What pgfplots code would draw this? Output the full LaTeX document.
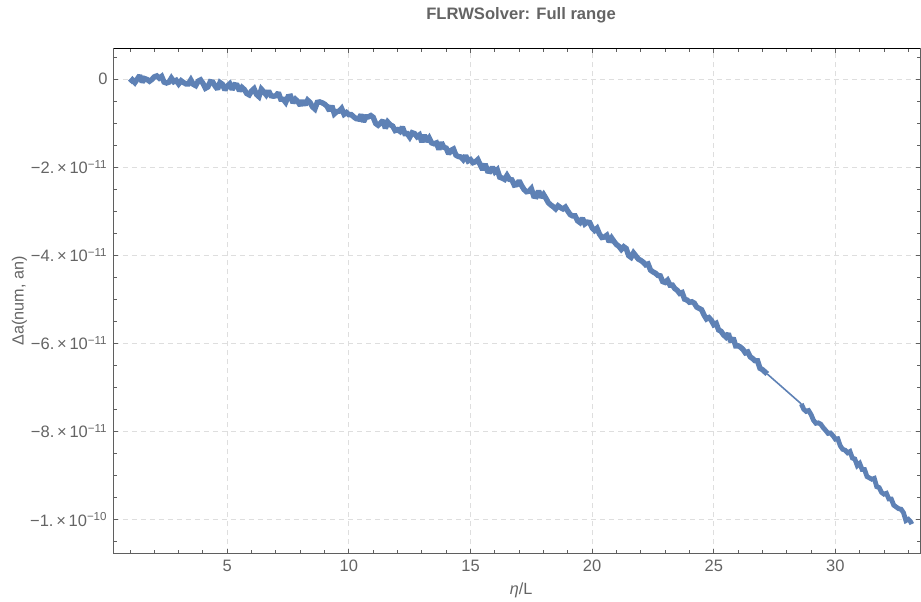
\documentclass[border=0pt]{standalone}
\usepackage{pgfplots}
\pgfplotsset{compat=1.18}
\usepackage{fontspec}
\setmainfont{Liberation Sans}
\definecolor{mblue}{RGB}{94,129,181}
\definecolor{lblgray}{RGB}{100,100,100}
\definecolor{framegray}{RGB}{95,95,95}
\definecolor{gridgray}{RGB}{222,222,222}
\newcommand{\sci}[2]{−#1.\,×\,10\textsuperscript{−#2}}
\begin{document}
\begin{tikzpicture}
\useasboundingbox (-57pt,-24pt) rectangle (403.5pt,276.5pt);
\begin{axis}[
  at={(0pt,0pt)}, anchor=south west,
  scale only axis, width=403pt, height=252pt,
  xmin=0.341, xmax=33.48, ymin=-10.766, ymax=0.682,
  xtick={5,10,15,20,25,30},
  minor xtick={1,2,...,33},
  ytick={-10,-8,-6,-4,-2,0},
  yticklabels={\sci{1}{10},\sci{8}{11},\sci{6}{11},\sci{4}{11},\sci{2}{11},0},
  minor ytick={-10.5,-10,...,0.5},
  major tick length=2pt, minor tick length=1.3pt,
  tick style={framegray, line width=0.5pt},
  axis line style={framegray, line width=0.5pt},
  grid=major,
  major grid style={gridgray, dash pattern=on 2.5pt off 2pt, line width=0.5pt},
  /pgf/number format/assume math mode=true,
  tick label style={font=\fontsize{8.25}{9.9}\selectfont, text=lblgray, inner sep=0pt},
  xticklabel style={yshift=-3.5pt},
  yticklabel style={xshift=-3pt},
  title={FLRWSolver: Full range},
  title style={at={(axis description cs:0.505,1.0427)}, anchor=center, font=\bfseries\fontsize{8.3}{10}\selectfont, text=lblgray},
  xlabel={{\itshape η}/L},
  xlabel style={at={(axis description cs:0.505,-0.0734)}, anchor=center, font=\fontsize{8.1}{10}\selectfont, text=lblgray},
  ylabel={Δa(num, an)},
  ylabel style={at={(axis description cs:-0.1172,0.5)}, anchor=center, font=\fontsize{8.1}{10}\selectfont, text=lblgray},
]
\addplot[mblue, line width=2.7pt, line join=miter, miter limit=2] coordinates {
(1.0,-0.08)(1.1,-0.02)(1.2,-0.08)(1.3,0.00)(1.4,0.08)(1.5,-0.07)(1.6,0.01)(1.7,-0.01)(1.8,-0.05)(1.9,-0.01)
(2.0,0.05)(2.1,0.07)(2.2,0.02)(2.3,0.06)(2.4,-0.07)(2.5,-0.09)(2.6,-0.07)(2.7,0.02)(2.8,-0.06)(2.9,-0.03)
(3.0,-0.11)(3.1,-0.04)(3.2,-0.08)(3.3,-0.11)(3.4,-0.11)(3.5,-0.02)(3.6,-0.12)(3.7,-0.15)(3.8,-0.05)(3.9,-0.02)
(4.0,-0.10)(4.1,-0.21)(4.2,-0.18)(4.3,-0.06)(4.4,-0.07)(4.5,-0.16)(4.6,-0.23)(4.7,-0.08)(4.8,-0.12)(4.9,-0.25)
(5.0,-0.16)(5.1,-0.11)(5.2,-0.24)(5.3,-0.13)(5.4,-0.14)(5.5,-0.27)(5.6,-0.19)(5.7,-0.24)(5.8,-0.33)(5.9,-0.36)
(6.0,-0.27)(6.1,-0.22)(6.2,-0.35)(6.3,-0.40)(6.4,-0.23)(6.5,-0.29)(6.6,-0.36)(6.7,-0.27)(6.8,-0.38)(6.9,-0.39)
(7.0,-0.38)(7.1,-0.31)(7.2,-0.46)(7.3,-0.46)(7.4,-0.53)(7.5,-0.40)(7.6,-0.39)(7.7,-0.54)(7.8,-0.46)(7.9,-0.51)
(8.0,-0.60)(8.1,-0.49)(8.2,-0.59)(8.3,-0.48)(8.4,-0.53)(8.5,-0.63)(8.6,-0.68)(8.7,-0.53)(8.8,-0.52)(8.9,-0.54)
(9.0,-0.57)(9.1,-0.62)(9.2,-0.72)(9.3,-0.61)(9.4,-0.79)(9.5,-0.74)(9.6,-0.73)(9.7,-0.67)(9.8,-0.80)(9.9,-0.76)
(10.0,-0.81)(10.1,-0.81)(10.2,-0.86)(10.3,-0.90)(10.4,-0.91)(10.5,-0.81)(10.6,-0.97)(10.7,-0.86)(10.8,-0.86)(10.9,-0.83)
(11.0,-0.87)(11.1,-1.01)(11.2,-1.05)(11.3,-1.00)(11.4,-0.94)(11.5,-1.12)(11.6,-0.98)(11.7,-1.04)(11.8,-1.07)(11.9,-1.17)
(12.0,-1.15)(12.1,-1.19)(12.2,-1.09)(12.3,-1.24)(12.4,-1.24)(12.5,-1.32)(12.6,-1.22)(12.7,-1.24)(12.8,-1.31)(12.9,-1.27)
(13.0,-1.43)(13.1,-1.27)(13.2,-1.42)(13.3,-1.34)(13.4,-1.45)(13.5,-1.47)(13.6,-1.45)(13.7,-1.60)(13.8,-1.44)(13.9,-1.55)
(14.0,-1.57)(14.1,-1.70)(14.2,-1.62)(14.3,-1.59)(14.4,-1.73)(14.5,-1.76)(14.6,-1.77)(14.7,-1.83)(14.8,-1.74)(14.9,-1.86)
(15.0,-1.83)(15.1,-1.90)(15.2,-1.88)(15.3,-1.83)(15.4,-1.95)(15.5,-2.06)(15.6,-1.93)(15.7,-2.09)(15.8,-2.10)(15.9,-2.00)
(16.0,-2.11)(16.1,-2.06)(16.2,-2.23)(16.3,-2.25)(16.4,-2.28)(16.5,-2.19)(16.6,-2.28)(16.7,-2.29)(16.8,-2.41)(16.9,-2.40)
(17.0,-2.31)(17.1,-2.42)(17.2,-2.51)(17.3,-2.56)(17.4,-2.55)(17.5,-2.49)(17.6,-2.66)(17.7,-2.67)(17.8,-2.54)(17.9,-2.69)
(18.0,-2.62)(18.1,-2.71)(18.2,-2.81)(18.3,-2.86)(18.4,-2.90)(18.5,-2.95)(18.6,-2.88)(18.7,-2.92)(18.8,-2.95)(18.9,-2.91)
(19.0,-3.00)(19.1,-3.08)(19.2,-3.11)(19.3,-3.11)(19.4,-3.22)(19.5,-3.26)(19.6,-3.16)(19.7,-3.29)(19.8,-3.25)(19.9,-3.26)
(20.0,-3.38)(20.1,-3.44)(20.2,-3.39)(20.3,-3.52)(20.4,-3.60)(20.5,-3.59)(20.6,-3.55)(20.7,-3.70)(20.8,-3.61)(20.9,-3.69)
(21.0,-3.76)(21.1,-3.80)(21.2,-3.87)(21.3,-3.81)(21.4,-3.85)(21.5,-4.01)(21.6,-4.05)(21.7,-3.95)(21.8,-4.02)(21.9,-4.09)
(22.0,-4.12)(22.1,-4.16)(22.2,-4.22)(22.3,-4.20)(22.4,-4.34)(22.5,-4.38)(22.6,-4.41)(22.7,-4.46)(22.8,-4.47)(22.9,-4.60)
(23.0,-4.62)(23.1,-4.57)(23.2,-4.68)(23.3,-4.68)(23.4,-4.76)(23.5,-4.80)(23.6,-4.87)(23.7,-4.85)(23.8,-5.00)(23.9,-5.02)
(24.0,-5.07)(24.1,-5.06)(24.2,-5.09)(24.3,-5.18)(24.4,-5.21)(24.5,-5.24)(24.6,-5.36)(24.7,-5.45)(24.8,-5.42)(24.9,-5.48)
(25.0,-5.58)(25.1,-5.55)(25.2,-5.70)(25.3,-5.73)(25.4,-5.81)(25.5,-5.86)(25.6,-5.78)(25.7,-5.97)(25.8,-5.88)(25.9,-6.06)
(26.0,-6.06)(26.1,-6.09)(26.2,-6.14)(26.3,-6.22)(26.4,-6.20)(26.5,-6.31)(26.6,-6.35)(26.7,-6.40)(26.8,-6.40)(26.9,-6.57)
(27.0,-6.60)(27.1,-6.65)(27.2,-6.70)
};
\addplot[mblue, line width=0.8pt] coordinates {(27.2,-6.70)(28.6,-7.38)};
\addplot[mblue, line width=2.4pt, line join=miter, miter limit=2] coordinates {
(28.6,-7.38)(28.7,-7.50)(28.8,-7.55)(28.9,-7.53)
(29.0,-7.62)(29.1,-7.75)(29.2,-7.82)(29.3,-7.81)(29.4,-7.84)(29.5,-7.92)(29.6,-7.98)(29.7,-8.05)(29.8,-8.04)(29.9,-8.10)
(30.0,-8.18)(30.1,-8.17)(30.2,-8.33)(30.3,-8.41)(30.4,-8.43)(30.5,-8.49)(30.6,-8.46)(30.7,-8.61)(30.8,-8.63)(30.9,-8.78)
(31.0,-8.73)(31.1,-8.87)(31.2,-8.87)(31.3,-9.03)(31.4,-9.06)(31.5,-9.09)(31.6,-9.07)(31.7,-9.26)(31.8,-9.28)(31.9,-9.39)
(32.0,-9.43)(32.1,-9.41)(32.2,-9.54)(32.3,-9.54)(32.4,-9.68)(32.5,-9.72)(32.6,-9.76)(32.7,-9.77)(32.8,-9.85)(32.9,-10.03)
(33.0,-10.00)(33.1,-10.06)(33.14,-10.11)
};
\draw[black, line width=0.5pt] (rel axis cs:0,1) -- (rel axis cs:1,1);
\end{axis}
\end{tikzpicture}
\end{document}
